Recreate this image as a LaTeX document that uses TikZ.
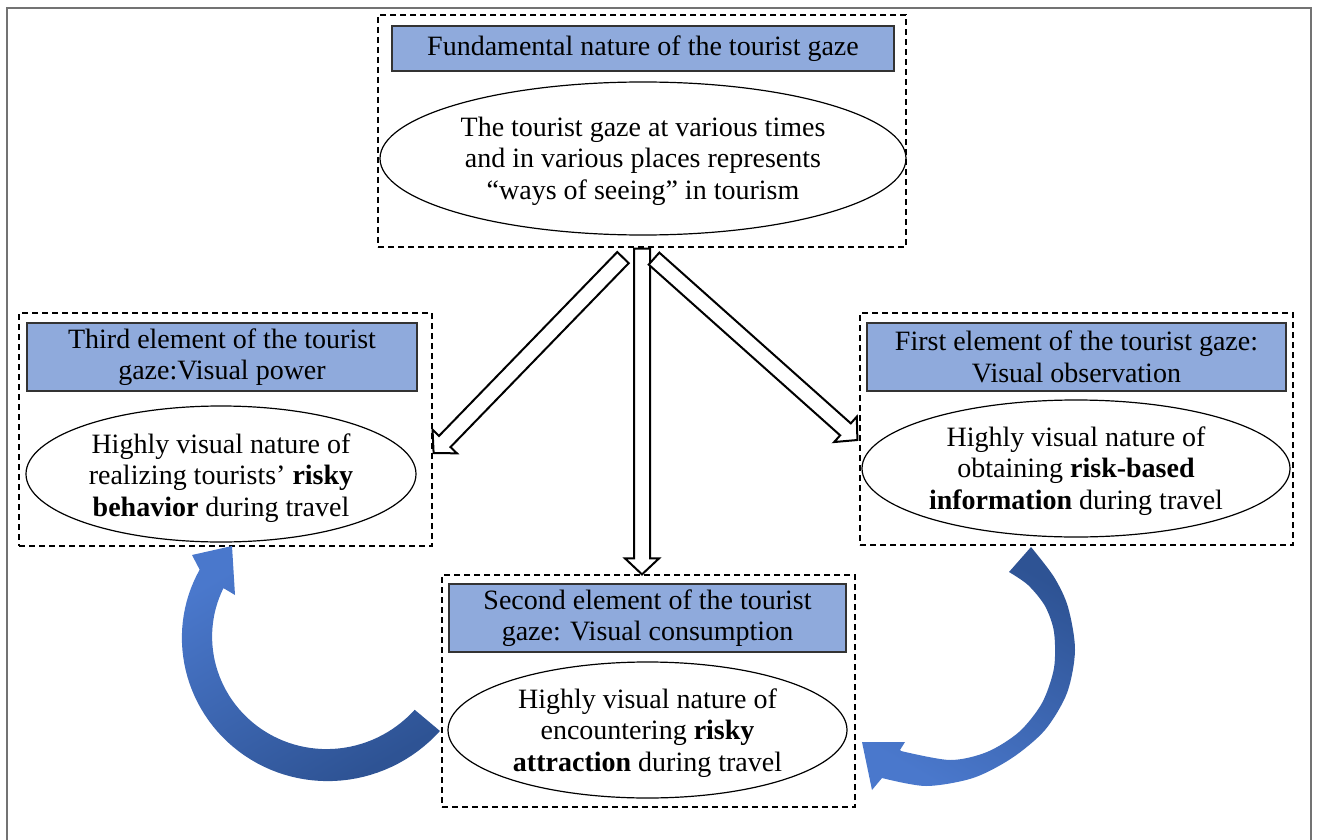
\documentclass[tikz,border=0pt]{standalone}
\usepackage{fontspec}
\setmainfont{Liberation Serif}
\usetikzlibrary{shapes.geometric,calc}

\definecolor{titleblue}{HTML}{8FAADC}
\definecolor{arrowlight}{HTML}{4A78CC}
\definecolor{arrowdark}{HTML}{2E5394}

% hollow block arrow from #1 to #2
\newcommand{\hollowarrow}[2]{%
  \coordinate (hb) at ($(#2)!8pt!(#1)$);
  \draw[hollow] ($(#1)!4pt!90:(#2)$) -- ($(hb)!4pt!90:(#2)$) -- ($(hb)!8.5pt!90:(#2)$)
    -- (#2) -- ($(hb)!8.5pt!-90:(#2)$) -- ($(hb)!4pt!-90:(#2)$) -- ($(#1)!4pt!-90:(#2)$) -- cycle;}

\begin{document}
\begin{tikzpicture}[x=0.5pt, y=-0.5pt, font=\fontsize{14}{15.7}\selectfont,
  outerbox/.style = {draw, dash pattern=on 3pt off 2pt, line width=0.6pt, inner sep=0pt},
  title/.style = {draw=black!80, fill=titleblue, line width=0.7pt, align=center, inner sep=1pt},
  oval/.style = {draw, ellipse, line width=0.6pt, inner sep=0pt},
  note/.style = {align=center, inner sep=0pt},
  hollow/.style = {draw, fill=white, line width=1pt, line join=miter},
  frame/.style = {draw=black!55, line width=1pt}]
\useasboundingbox (0,0) rectangle (1317,840);
\draw[frame] (7,840) -- (7,8) -- (1311,8) -- (1311,840);

% fundamental nature
\node[outerbox, minimum width=264pt, minimum height=116pt] (topbox) at (642,131) {};
\node[title, minimum width=251pt, minimum height=22.5pt] (toptitle) at (643,48.5) {Fundamental nature of the tourist gaze};
\node[oval, minimum width=263pt, minimum height=76.5pt] (topoval) at (643,158.5) {};
\node[note] (toptext) at (643,161) {The tourist gaze at various times\\and in various places represents\\“ways of seeing” in tourism};

% third element
\node[outerbox, minimum width=206.5pt, minimum height=116.5pt] (thirdbox) at (225.5,429.5) {};
\node[title, minimum width=195pt, minimum height=34pt] (thirdtitle) at (222,357) {Third element of the tourist\\gaze:Visual power};
\node[oval, minimum width=195pt, minimum height=68pt] (thirdoval) at (221,474) {};
\node[note] (thirdtext) at (221,478) {Highly visual nature of\\realizing tourists’ \textbf{risky}\\\textbf{behavior} during travel};

% first element
\node[outerbox, minimum width=216.5pt, minimum height=116pt] (firstbox) at (1076.5,429) {};
\node[title, minimum width=209.5pt, minimum height=34pt] (firsttitle) at (1076.5,357) {First element of the tourist gaze:\\Visual observation};
\node[oval, minimum width=214pt, minimum height=68.5pt] (firstoval) at (1076,468.5) {};
\node[note] (firsttext) at (1076,471) {Highly visual nature of\\obtaining \textbf{risk-based}\\\textbf{information} during travel};

% second element
\node[outerbox, minimum width=206.5pt, minimum height=116pt] (secondbox) at (648.5,691) {};
\node[title, minimum width=198.5pt, minimum height=34pt] (secondtitle) at (647.5,618) {Second element of the tourist\\gaze: Visual consumption};
\node[oval, minimum width=199.5pt, minimum height=68pt] (secondoval) at (647.5,730) {};
\node[note] (secondtext) at (647.5,733) {Highly visual nature of\\encountering \textbf{risky}\\\textbf{attraction} during travel};

% hollow arrows
\coordinate (downstart) at ($(topbox.south)+(0,1)$);
\coordinate (downend) at (topbox.south |- secondbox.north);
\coordinate (leftstart) at ($(topbox.south)+(-19,10)$);
\coordinate (leftend) at ($(thirdbox.east)+(1,23.5)$);
\coordinate (rightstart) at ($(topbox.south)+(12,11)$);
\coordinate (rightend) at ($(firstbox.west)+(-2,11)$);
\hollowarrow{downstart}{downend}
\hollowarrow{leftstart}{leftend}
\hollowarrow{rightstart}{rightend}

% curved arrows
\shade[top color=arrowlight, bottom color=arrowdark, shading angle=30]
  plot[domain=40:207, samples=60] ({322+(154-0.1*(\x-40))*cos(\x)}, {632+(154-0.1*(\x-40))*sin(\x)})
  -- (192,555) -- (232,546) -- (235,595)
  -- plot[domain=204:40, samples=60] ({322+(121-0.08*(\x-40))*cos(\x)}, {632+(121-0.08*(\x-40))*sin(\x)})
  -- cycle;
\shade[top color=arrowdark, bottom color=arrowlight, shading angle=-30]
  plot[smooth] coordinates {(1031,547) (1054,577) (1068,607) (1075,650) (1067,693) (1045,730) (1012,758) (973,778) (926,786) (882,778)}
  -- (872,790) -- (862,742) -- (905,742) -- (900,750)
  -- plot[smooth] coordinates {(901,751) (950,760) (987,752) (1019,732) (1042,703) (1054,668) (1054,632) (1045,606) (1028,585) (1009,572)}
  -- cycle;
\end{tikzpicture}
\end{document}
